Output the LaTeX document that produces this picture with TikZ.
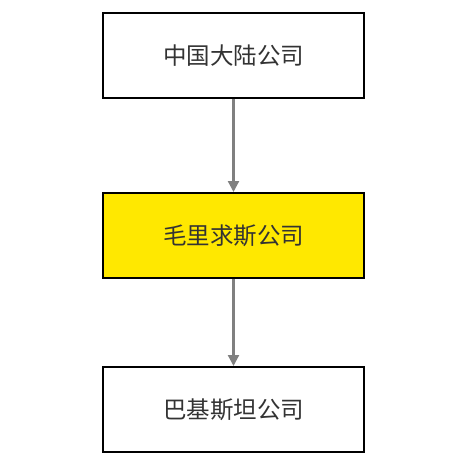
\documentclass[tikz,border=0pt]{standalone}
\usepackage{fontspec}
\newfontfamily\cjk{Noto Sans CJK SC}
\usetikzlibrary{arrows.meta}
\definecolor{boxyellow}{HTML}{FFE800}
\definecolor{txtgray}{HTML}{333333}
\definecolor{arrgray}{HTML}{808080}
\tikzset{
  company/.style={draw=black, line width=2pt, minimum width=261pt, minimum height=85pt,
    inner sep=0pt, font=\cjk\fontsize{23.5pt}{27pt}\selectfont, text=txtgray},
  link/.style={draw=arrgray, line width=2.2pt, -{Triangle[width=11pt,length=11pt]}}
}
\begin{document}
\begin{tikzpicture}[x=1pt,y=-1pt]
\useasboundingbox (0,0) rectangle (460,466);
\node[company] (cn) at (233.5,55.5) {中国大陆公司};
\node[company, fill=boxyellow] (mu) at (233.5,235.5) {毛里求斯公司};
\node[company] (pk) at (233.5,409.5) {巴基斯坦公司};
\draw[link] (cn) -- (mu);
\draw[link] (mu) -- (pk);
\end{tikzpicture}
\end{document}
